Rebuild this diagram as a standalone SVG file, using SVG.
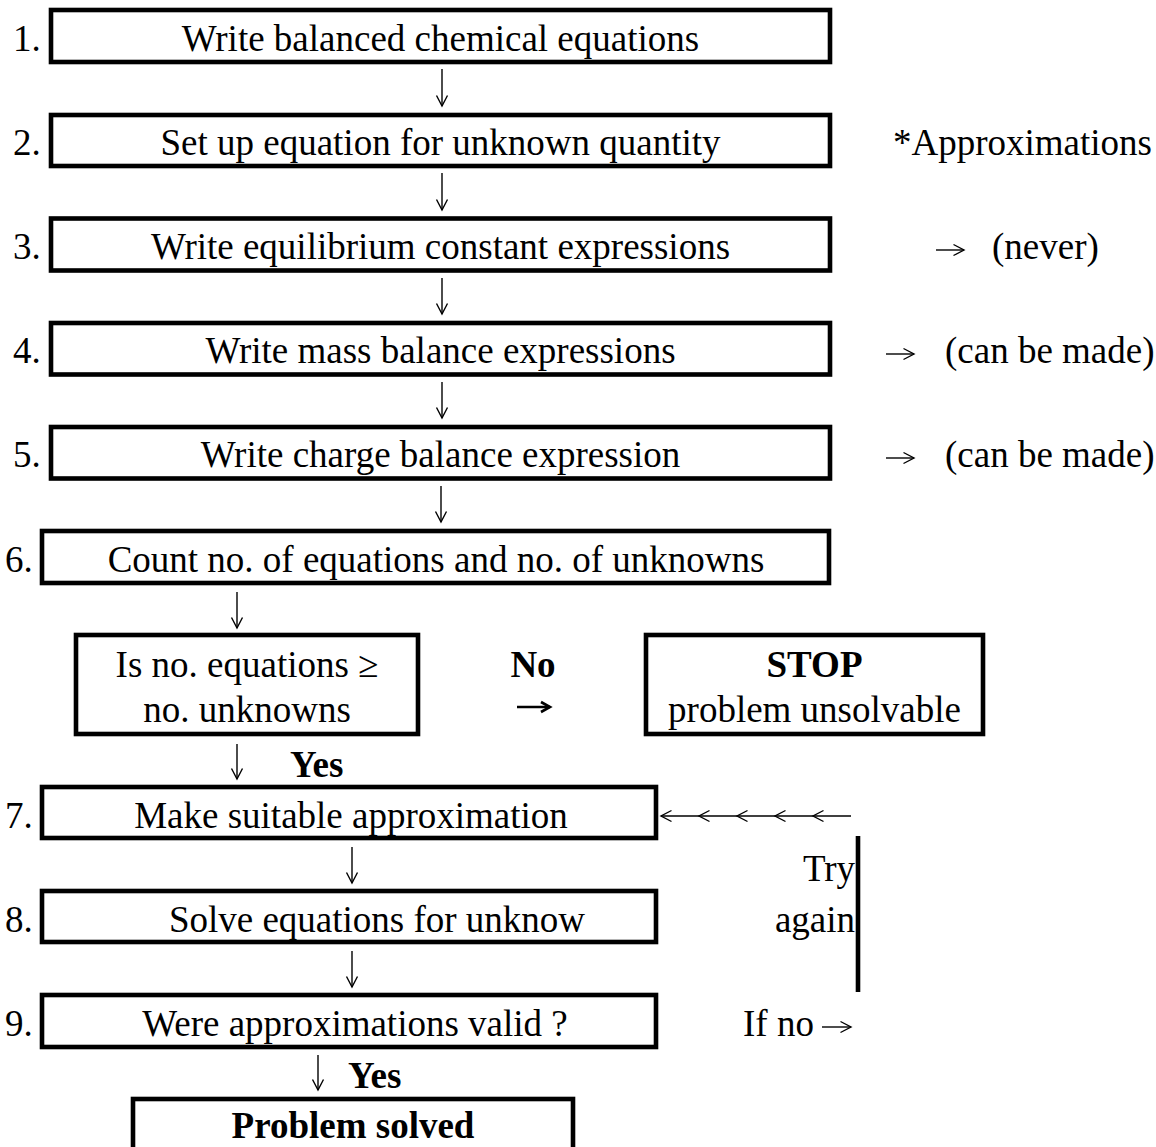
<svg xmlns="http://www.w3.org/2000/svg" width="1156" height="1147" viewBox="0 0 1156 1147">
<defs>
<style>
text{font-family:"Liberation Serif","Times New Roman",serif;font-size:37px;fill:#000}
.b{font-weight:bold}
.c{text-anchor:middle}
.r{text-anchor:end}
.box{fill:#fff;stroke:#000;stroke-width:4.6}
.arr{fill:none;stroke:#000;stroke-width:1.4}
.arrb{fill:none;stroke:#000;stroke-width:2.6}
.bar{stroke:#000;stroke-width:4.6}
</style>
<marker id="ah" markerUnits="userSpaceOnUse" markerWidth="14" markerHeight="14" refX="11.5" refY="7" orient="auto">
<path d="M1,1.5 L11.5,7 L1,12.5" fill="none" stroke="#000" stroke-width="1.4"/>
</marker>
<marker id="ahb" markerUnits="userSpaceOnUse" markerWidth="14" markerHeight="14" refX="11" refY="7" orient="auto">
<path d="M2,2 L11,7 L2,12" fill="none" stroke="#000" stroke-width="2.6"/>
</marker>
</defs>
<rect width="1156" height="1147" fill="#fff"/>

<g id="n1">
<text x="13" y="51">1.</text>
<rect class="box" x="51" y="10" width="779" height="52"/>
<text class="c" x="440.5" y="51">Write balanced chemical equations</text>
</g>
<g id="n2">
<text x="13" y="155">2.</text>
<rect class="box" x="51" y="115" width="779" height="51"/>
<text class="c" x="440.5" y="155">Set up equation for unknown quantity</text>
</g>
<g id="n3">
<text x="13" y="259">3.</text>
<rect class="box" x="51" y="218.5" width="779" height="52"/>
<text class="c" x="440.5" y="259">Write equilibrium constant expressions</text>
</g>
<g id="n4">
<text x="13" y="363">4.</text>
<rect class="box" x="51" y="323" width="779" height="51.5"/>
<text class="c" x="440.5" y="363">Write mass balance expressions</text>
</g>
<g id="n5">
<text x="13" y="467">5.</text>
<rect class="box" x="51" y="427" width="779" height="51.5"/>
<text class="c" x="440.5" y="467">Write charge balance expression</text>
</g>
<g id="n6">
<text x="5" y="572">6.</text>
<rect class="box" x="42" y="531" width="787" height="52"/>
<text class="c" x="436" y="572">Count no. of equations and no. of unknowns</text>
</g>
<g id="decision">
<rect class="box" x="76" y="635" width="342" height="99"/>
<text class="c" x="247" y="677">Is no. equations ≥</text>
<text class="c" x="247" y="722">no. unknowns</text>
</g>
<g id="stop">
<rect class="box" x="646" y="635" width="337" height="99"/>
<text class="c b" x="814.5" y="677">STOP</text>
<text class="c" x="814.5" y="722">problem unsolvable</text>
</g>
<g id="n7">
<text x="5" y="828">7.</text>
<rect class="box" x="42" y="787" width="614" height="51"/>
<text class="c" x="351" y="828">Make suitable approximation</text>
</g>
<g id="n8">
<text x="5" y="932">8.</text>
<rect class="box" x="42" y="891" width="614" height="51"/>
<text class="c" x="377" y="932">Solve equations for unknow</text>
</g>
<g id="n9">
<text x="5" y="1036">9.</text>
<rect class="box" x="42" y="995" width="614" height="52"/>
<text class="c" x="355" y="1036">Were approximations valid ?</text>
</g>
<g id="solved">
<rect class="box" x="133" y="1099" width="440" height="70"/>
<text class="c b" x="353" y="1138">Problem solved</text>
</g>

<g id="notes">
<text x="893" y="155">*Approximations</text>
<text x="992" y="259">(never)</text>
<text x="945" y="363">(can be made)</text>
<text x="945" y="467">(can be made)</text>
<text class="r" x="855" y="881">Try</text>
<text class="r" x="855" y="932">again</text>
<text x="743" y="1036">If no</text>
<text class="c b" x="533" y="677">No</text>
<text class="b" x="290" y="777">Yes</text>
<text class="b" x="348" y="1088">Yes</text>
</g>

<g id="connectors">
<path class="arr" marker-end="url(#ah)" d="M442,69 V106"/>
<path class="arr" marker-end="url(#ah)" d="M442,173 V210"/>
<path class="arr" marker-end="url(#ah)" d="M442,278 V314"/>
<path class="arr" marker-end="url(#ah)" d="M442,382 V418"/>
<path class="arr" marker-end="url(#ah)" d="M441,486 V522"/>
<path class="arr" marker-end="url(#ah)" d="M237,592 V628"/>
<path class="arr" marker-end="url(#ah)" d="M237,744 V779"/>
<path class="arr" marker-end="url(#ah)" d="M352,847 V883"/>
<path class="arr" marker-end="url(#ah)" d="M352,951 V987"/>
<path class="arr" marker-end="url(#ah)" d="M318,1055 V1090"/>
<path class="arr" marker-end="url(#ah)" d="M936,250 H964"/>
<path class="arr" marker-end="url(#ah)" d="M886,354 H914"/>
<path class="arr" marker-end="url(#ah)" d="M886,458 H914"/>
<path class="arr" marker-end="url(#ah)" d="M822,1027 H851"/>
<path class="arrb" marker-end="url(#ahb)" d="M517,707 H550"/>
<polyline class="arr" marker-mid="url(#ah)" marker-end="url(#ah)" points="851,816 813,816 775,816 737,816 699,816 661,816"/>
<line class="bar" x1="858" y1="836" x2="858" y2="992"/>
</g>
</svg>
